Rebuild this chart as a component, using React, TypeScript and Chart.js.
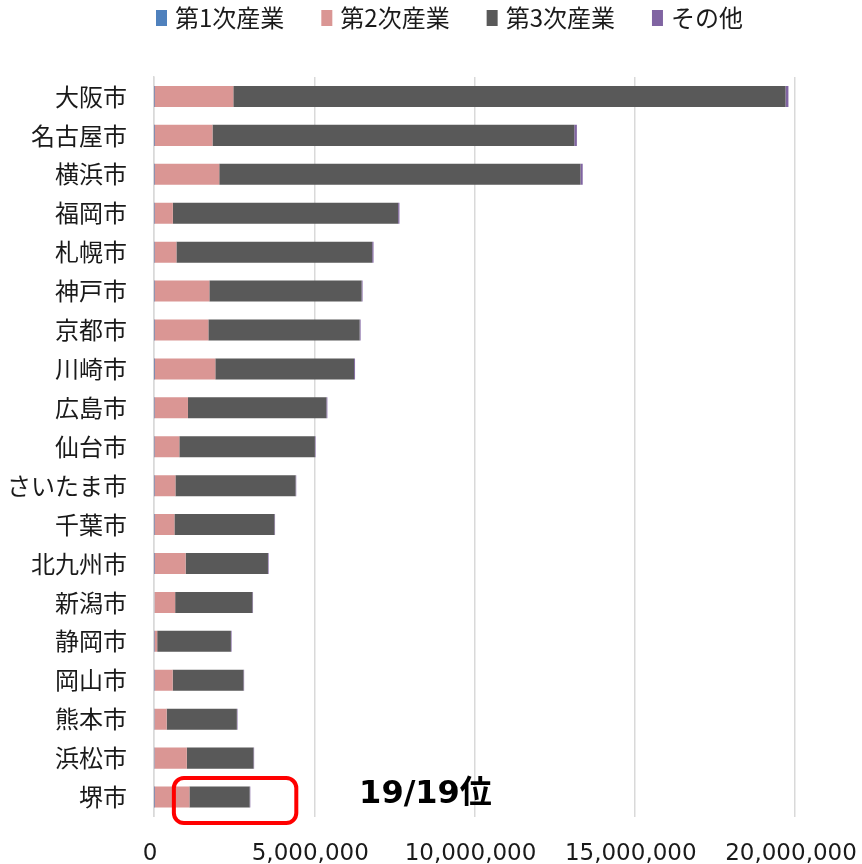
import React, { useEffect, useRef } from "react";
import { Chart, registerables } from "chart.js";

Chart.register(...registerables);

const categories = [
  "大阪市", "名古屋市", "横浜市", "福岡市", "札幌市", "神戸市", "京都市", "川崎市", "広島市", "仙台市",
  "さいたま市", "千葉市", "北九州市", "新潟市", "静岡市", "岡山市", "熊本市", "浜松市", "堺市",
];

const primary = [
  5000, 4000, 6000, 8000, 9000, 7000, 6000, 3000, 9000, 10000,
  8000, 7000, 6000, 20000, 10000, 12000, 15000, 14000, 5000,
];
const secondary = [
  2470000, 1820000, 2030000, 580000, 690000, 1720000, 1690000, 1910000, 1050000, 780000,
  660000, 630000, 980000, 640000, 90000, 570000, 380000, 1010000, 1100000,
];
const tertiary = [
  17230000, 11290000, 11270000, 7030000, 6110000, 4750000, 4720000, 4330000, 4320000, 4230000,
  3750000, 3120000, 2570000, 2410000, 2300000, 2210000, 2190000, 2080000, 1880000,
];
const others = [
  90000, 80000, 70000, 40000, 40000, 30000, 30000, 30000, 30000, 20000,
  20000, 20000, 20000, 20000, 20000, 20000, 20000, 20000, 20000,
];

const seriesNames = ["第1次産業", "第2次産業", "第3次産業", "その他"];
const seriesColors = ["#4F81BD", "#DA9694", "#595959", "#8064A2"];

const rankText = "19/19位";
const highlightCity = "堺市";
const highlightFrom = 620000;
const highlightTo = 4440000;
const rankTextAt = 6400000;

const jpFont = "'Noto Sans CJK JP', 'Noto Sans', sans-serif";
const numFont = "'DejaVu Sans', 'Noto Sans CJK JP', sans-serif";

const legendPlugin = {
  id: "customLegend",
  afterDraw(chart: any) {
    const ctx = chart.ctx;
    ctx.save();
    ctx.font = `24px ${jpFont}`;
    ctx.textBaseline = "middle";
    ctx.textAlign = "left";
    let px = chart.chartArea.left + 2;
    const cy = 18;
    chart.data.datasets.forEach((ds: any) => {
      ctx.fillStyle = ds.backgroundColor;
      ctx.fillRect(px, cy - 8, 11, 16);
      px += 11 + 8;
      ctx.fillStyle = "#1a1a1a";
      ctx.fillText(ds.label, px, cy);
      px += ctx.measureText(ds.label).width + 37;
    });
    ctx.restore();
  },
};

const annotationPlugin = {
  id: "rankAnnotation",
  afterDatasetsDraw(chart: any) {
    const ctx = chart.ctx;
    const xs = chart.scales.x;
    const ys = chart.scales.y;
    const idx = categories.indexOf(highlightCity);
    const cy = ys.getPixelForValue(idx);
    const left = xs.getPixelForValue(highlightFrom);
    const right = xs.getPixelForValue(highlightTo);
    const top = cy - 19;
    const bottom = cy + 26;
    ctx.save();
    ctx.strokeStyle = "#FF0000";
    ctx.lineWidth = 4;
    ctx.beginPath();
    (ctx as any).roundRect(left, top, right - left, bottom - top, 10);
    ctx.stroke();
    ctx.fillStyle = "#000000";
    ctx.font = `bold 32px ${numFont}`;
    ctx.textBaseline = "middle";
    ctx.textAlign = "left";
    ctx.fillText(rankText, xs.getPixelForValue(rankTextAt), cy - 2);
    ctx.restore();
  },
};

export default function App() {
  const canvasRef = useRef<HTMLCanvasElement | null>(null);

  useEffect(() => {
    if (!canvasRef.current) return;
    const data = [primary, secondary, tertiary, others];
    const chart = new Chart(canvasRef.current, {
      type: "bar",
      data: {
        labels: categories,
        datasets: seriesNames.map((name, i) => ({
          label: name,
          data: data[i],
          backgroundColor: seriesColors[i],
          borderWidth: 0,
          barPercentage: 1,
          categoryPercentage: 0.54,
        })),
      },
      options: {
        indexAxis: "y",
        animation: false,
        responsive: false,
        maintainAspectRatio: false,
        layout: { padding: { top: 77, left: 0, right: 0, bottom: 0 } },
        plugins: {
          legend: { display: false },
          tooltip: { enabled: false },
        },
        scales: {
          x: {
            stacked: true,
            min: 0,
            max: 20000000,
            afterFit: (scale: any) => {
              scale.height = 47.5;
              scale.paddingRight = 67;
              scale.paddingLeft = 0;
            },
            ticks: {
              stepSize: 5000000,
              padding: 23.5,
              labelOffset: -4,
              maxRotation: 0,
              color: "#1a1a1a",
              font: { family: numFont, size: 23 },
              callback: (v: any) => Number(v).toLocaleString("en-US"),
            },
            grid: { color: "#d9d9d9", lineWidth: 1.5, drawTicks: false },
            border: { display: false },
          },
          y: {
            stacked: true,
            afterFit: (scale: any) => {
              scale.width = 154;
            },
            ticks: {
              padding: 27,
              color: "#1a1a1a",
              font: { family: jpFont, size: 24 },
            },
            grid: { display: false, drawTicks: false },
            border: { display: true, color: "#d9d9d9", width: 1.5 },
          },
        },
      },
      plugins: [legendPlugin, annotationPlugin],
    });
    return () => chart.destroy();
  }, []);

  return (
    <div style={{ position: "fixed", left: 0, top: 0, width: 862, height: 864, background: "#fff" }}>
      <canvas ref={canvasRef} width={862} height={864} style={{ width: 862, height: 864 }} />
    </div>
  );
}
